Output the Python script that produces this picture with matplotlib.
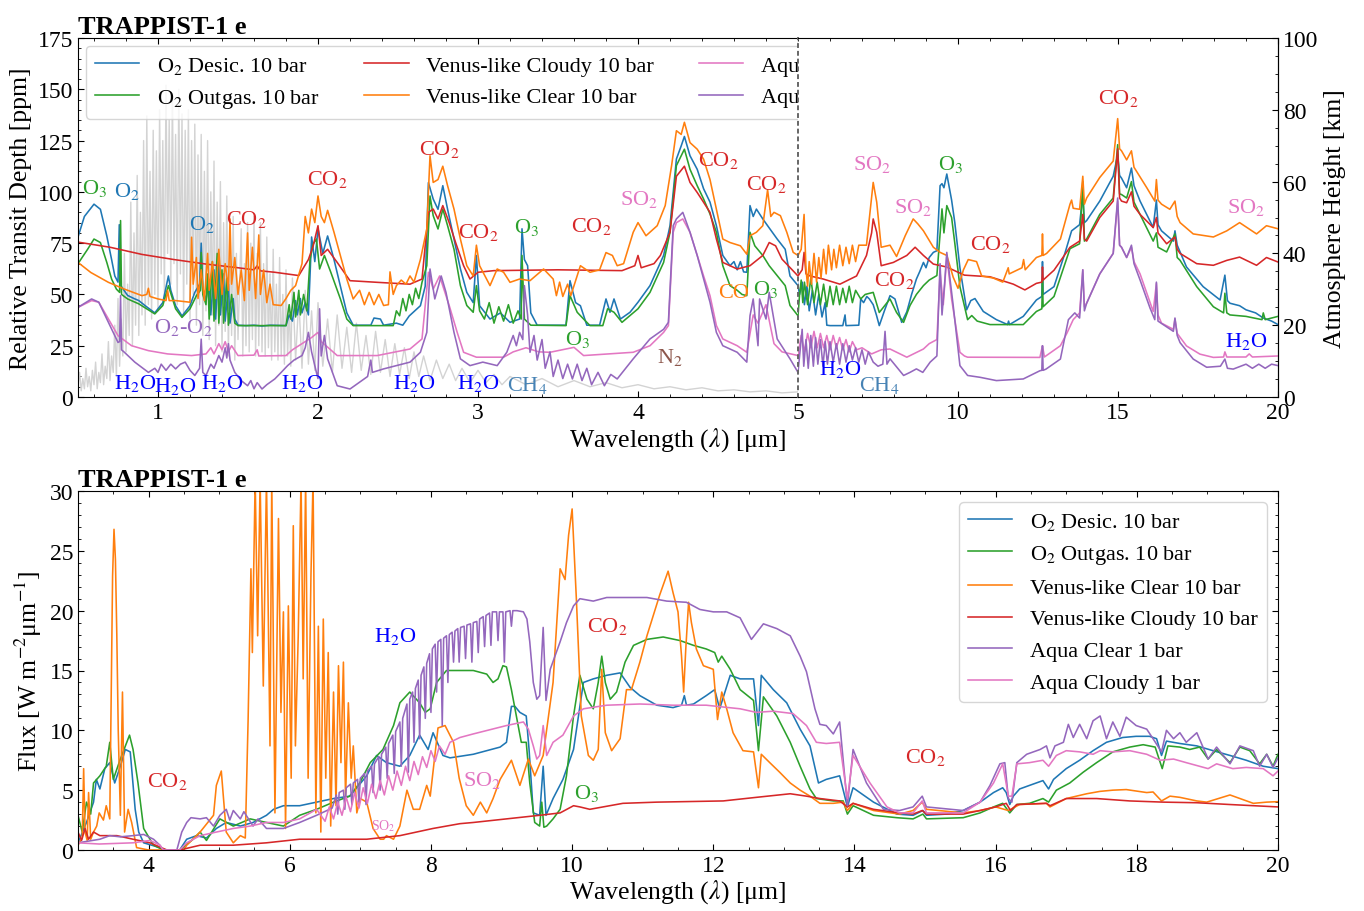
import numpy as np
import matplotlib.pyplot as plt
from matplotlib.ticker import MultipleLocator

# ---------------- data: top panel (transit depth, ppm) ----------------
grey_star = [(0.50,6),(0.51,12),(0.52,3),(0.53,9),(0.54,4),(0.55,14),(0.56,5),(0.57,10),(0.58,3),(0.59,13),
             (0.60,6),(0.61,17),(0.62,4),(0.63,12),(0.64,7),(0.65,21),(0.66,6),(0.67,15),(0.68,9),(0.69,27),
             (0.70,8),(0.71,20),(0.72,12),(0.73,35),(0.74,10),(0.75,48),(0.76,15),(0.77,38),(0.78,20),(0.79,70),
             (0.80,22),(0.81,55),(0.82,30),(0.83,95),(0.84,25),(0.85,80),(0.86,35),(0.87,108),(0.88,30),(0.89,90),
             (0.90,40),(0.91,125),(0.92,35),(0.93,137),(0.94,45),(0.95,110),(0.96,38),(0.97,130),(0.98,50),(0.99,120),
             (1.00,42),(1.01,140),(1.02,60),(1.03,125),(1.04,48),(1.05,152),(1.06,70),(1.07,135),(1.08,55),(1.09,148),
             (1.10,65),(1.11,128),(1.12,45),(1.13,150),(1.14,60),(1.15,138),(1.16,40),(1.17,130),(1.18,55),(1.19,140),
             (1.20,38),(1.21,125),(1.22,50),(1.23,133),(1.24,35),(1.25,118),(1.26,45),(1.27,128),(1.28,30),(1.29,110),
             (1.30,42),(1.31,125),(1.32,28),(1.33,100),(1.34,40),(1.35,115),(1.36,25),(1.37,95),(1.38,35),(1.39,105),
             (1.40,22),(1.41,85),(1.42,32),(1.43,98),(1.44,20),(1.45,80),(1.46,30),(1.47,88),(1.48,18),(1.49,70),
             (1.50,28),(1.52,82),(1.53,20),(1.54,65),(1.55,25),(1.56,85),(1.57,22),(1.58,75),(1.59,28),(1.60,88),
             (1.61,20),(1.62,70),(1.63,25),(1.64,85),(1.65,22),(1.66,65),(1.67,20),(1.68,78),(1.69,24),(1.70,60),
             (1.71,18),(1.72,72),(1.73,22),(1.74,55),(1.75,18),(1.76,68),(1.77,20),(1.78,50),(1.79,16),(1.80,62),
             (1.81,20),(1.82,45),(1.83,15),(1.84,58),(1.86,18),(1.88,48),(1.90,14),(1.92,52),(1.94,16),(1.96,42),
             (1.98,13),(2.00,46),(2.03,15),(2.06,38),(2.09,12),(2.12,40),(2.15,14),(2.18,34),(2.21,12),(2.24,36),
             (2.27,13),(2.30,30),(2.33,11),(2.36,32),(2.39,12),(2.42,28),(2.45,10),(2.48,26),(2.51,11),(2.54,24),
             (2.57,9),(2.60,22),(2.63,10),(2.66,20),(2.70,8),(2.74,18),(2.78,9),(2.82,16),(2.86,8),(2.90,14),
             (2.95,7),(3.00,13),(3.05,7),(3.10,11),(3.15,6),(3.20,10),(3.30,6),(3.40,9),(3.50,5),(3.60,8),
             (3.70,5),(3.80,7),(3.90,4.5),(4.00,6),(4.10,4),(4.20,5),(4.30,3.5),(4.40,4.5),(4.50,3),(4.60,3.5),
             (4.70,2.5),(4.80,3),(4.90,2),(5.00,2.5)]

t_o2_desic = [(0.50,78),(0.54,88),(0.60,94),(0.64,91.5),(0.68,78.5),(0.71,67),(0.73,59),(0.75,56),(0.758,84),(0.765,55),
              (0.77,54),(0.81,49.5),(0.85,48),(0.88,47),(0.92,44.5),(0.98,41),(1.03,46),(1.065,59),(1.08,52),(1.11,44.5),
              (1.15,39.5),(1.20,44.5),(1.23,51),(1.26,55),(1.27,75),(1.28,52),(1.30,47.5),(1.32,57),(1.33,40),(1.35,62),
              (1.36,38),(1.38,66),(1.39,40),(1.41,60),(1.42,37),(1.44,55),(1.45,36),(1.47,48),(1.48,38),(1.50,35),
              (1.55,34.8),(1.60,35),(1.65,34.6),(1.70,35),(1.80,34.8),(1.82,40),(1.84,37),(1.86,47),(1.87,40),(1.89,48),
              (1.90,41),(1.92,46),(1.94,40),(1.96,78),(1.98,66),(2.00,82),(2.03,70),(2.06,78.5),(2.10,67),(2.14,54),
              (2.18,41),(2.22,35),(2.33,35),(2.35,38.5),(2.39,38),(2.41,35),(2.49,36),(2.53,35),(2.57,39.5),(2.64,44.5),
              (2.67,54),(2.69,104.5),(2.72,96.5),(2.75,91.5),(2.78,103),(2.81,91.5),(2.85,77),(2.89,62.5),(2.93,51),(2.97,46),
              (2.99,69),(3.01,44.5),(3.075,38),(3.14,41),(3.20,36.4),(3.26,38),(3.275,82),(3.29,67),(3.31,64),(3.33,41),
              (3.37,35),(3.55,35),(3.575,56.7),(3.61,46),(3.64,44.5),(3.68,35),(3.76,35),(3.80,47.8),(3.825,41.3),(3.85,47.8),
              (3.89,38),(3.95,41.3),(4.00,46.2),(4.075,54.3),(4.16,69),(4.20,83.5),(4.24,116),(4.27,122.4),(4.29,127),(4.325,117.6),
              (4.37,111),(4.41,101.5),(4.45,95),(4.49,83.5),(4.53,69),(4.575,64),(4.60,66),(4.62,62),(4.64,66),(4.66,61),
              (4.68,60.8),(4.70,93.3),(4.72,88),(4.74,91.6),(4.78,86.8),(4.81,83.5),(4.87,77),(4.92,72),(4.95,59),(5.00,54.3),
              (5.05,50),(5.13,56),(5.20,45),(5.28,54),(5.35,42),(5.45,52),(5.55,40),(5.65,50),(5.75,39),(5.85,46),
              (5.90,35),(6.00,34.8),(6.40,34.8),(6.47,40),(6.50,34.8),(6.90,35),(6.96,47.8),(7.05,46),(7.15,49),(7.23,47.8),
              (7.35,45),(7.45,40),(7.54,34.8),(7.70,42),(7.875,49.4),(8.03,47.8),(8.24,36.4),(8.40,41.5),(8.55,50),(8.70,57.5),
              (8.80,61),(8.92,65.6),(9.00,63),(9.10,68),(9.23,70.5),(9.34,71.3),(9.44,103),(9.50,104),(9.56,102),(9.65,108.7),
              (9.80,96),(9.90,85),(10.06,63),(10.27,42.5),(10.40,47),(10.53,48),(10.79,41.7),(11.20,37.7),(11.55,35.3),(11.58,37),
              (11.61,35.3),(12.04,39.3),(12.45,47.3),(12.62,49),(12.64,66),(12.66,50),(13.00,53.8),(13.34,70),(13.55,81),(13.80,84),
              (13.90,98.7),(13.95,85),(14.02,86),(14.43,95.5),(14.85,107.6),(14.99,118),(15.05,108),(15.11,106.7),(15.27,102),(15.42,111.6),
              (15.50,103),(15.69,95.5),(16.10,82.6),(16.20,96),(16.25,84),(16.36,81),(16.73,76),(16.78,81),(16.85,74),(17.14,63.4),
              (17.66,53.8),(18.19,47.3),(18.34,59.4),(18.42,47),(18.50,45.7),(18.80,44.5),(19.00,42.5),(19.30,41),(19.54,38.5),(19.80,37),
              (20.00,35.3)]

t_o2_outgas = [(0.50,65),(0.56,72),(0.60,77),(0.64,75.3),(0.68,65.6),(0.71,57.5),(0.74,52.6),(0.76,51),(0.766,86),(0.772,50),
               (0.81,47.8),(0.88,45.4),(0.98,40.5),(1.03,44.6),(1.065,54.3),(1.11,43),(1.15,38.8),(1.20,43),(1.24,49.4),(1.265,52),
               (1.27,70.4),(1.28,50),(1.30,45),(1.31,60),(1.32,38),(1.34,66),(1.35,37),(1.37,70),(1.38,36),(1.40,62),
               (1.41,36),(1.43,58),(1.44,35),(1.46,50),(1.48,36),(1.50,34.8),(1.80,34.8),(1.82,45),(1.83,38),(1.85,51),
               (1.86,39),(1.88,52),(1.89,40),(1.91,50),(1.93,42),(1.95,67),(1.97,74.6),(1.99,77),(2.01,62.4),(2.04,69),
               (2.08,60.8),(2.14,47.8),(2.18,38),(2.22,34.8),(2.47,34.8),(2.49,42),(2.51,39.6),(2.53,48),(2.55,42),(2.57,50),
               (2.59,45),(2.61,53),(2.63,48),(2.65,55.9),(2.68,64),(2.70,98),(2.72,88.4),(2.75,81.9),(2.78,91.6),(2.81,83.5),
               (2.85,72),(2.89,54.3),(2.93,44.6),(2.97,41.3),(2.99,54.3),(3.01,42),(3.04,38),(3.07,46),(3.10,36),(3.13,44),
               (3.16,37),(3.19,45),(3.22,36),(3.25,42),(3.27,38),(3.275,69),(3.29,38),(3.33,35),(3.55,34.8),(3.575,49.4),
               (3.62,41.3),(3.66,38),(3.70,34.8),(3.78,34.8),(3.81,43),(3.85,41.3),(3.90,36.4),(4.00,43),(4.075,51),(4.16,65.6),
               (4.20,80.3),(4.24,112.8),(4.29,120.8),(4.325,111),(4.37,103),(4.41,96.5),(4.45,89.2),(4.49,80.3),(4.53,64),(4.575,54.3),
               (4.62,52),(4.65,50),(4.68,49.4),(4.70,80.3),(4.73,73.7),(4.78,69),(4.82,64),(4.92,54.3),(4.95,44.6),(5.00,39.6),
               (5.05,50),(5.10,57),(5.15,46),(5.20,56),(5.30,45),(5.40,58),(5.50,46),(5.60,56),(5.70,45),(5.80,55),
               (5.90,44),(6.00,54),(6.10,45),(6.20,54),(6.30,45),(6.40,53),(6.50,46),(6.60,54),(6.70,46),(6.80,52),
               (6.96,47.8),(7.10,50),(7.35,51),(7.54,41.2),(7.875,47.8),(8.08,41.2),(8.30,36.4),(8.50,44.6),(8.70,50),(8.92,54.3),
               (9.10,57),(9.34,59.2),(9.50,91.7),(9.56,80),(9.65,93.3),(9.80,87.5),(9.90,75),(10.06,53.8),(10.30,37.7),(10.43,39.7),
               (10.60,37),(11.00,35.3),(12.04,35.3),(12.45,41.7),(12.62,43),(12.64,57),(12.66,44),(13.00,49),(13.50,72.3),(13.80,74.7),
               (13.90,105),(13.95,76),(14.02,77),(14.43,89),(14.85,97),(14.99,123),(15.05,99),(15.11,98.7),(15.27,97),(15.42,105),
               (15.50,95),(15.69,89),(16.10,76),(16.20,80),(16.25,73),(16.52,70.7),(16.78,79.5),(16.85,68),(16.94,66.6),(17.46,53.8),
               (17.98,44),(18.30,41),(18.34,50.6),(18.40,41),(18.50,40),(19.00,39.3),(19.50,37.7),(19.54,41),(19.60,37.7),(20.00,39.3)]

t_venus_cloudy = [(0.50,75.5),(0.70,73),(0.90,69.5),(1.10,67),(1.30,64.8),(1.50,63),(1.60,62),(1.62,64),(1.64,61.5),(1.73,60.8),
                  (1.88,59.2),(1.94,67),(1.97,73.7),(2.00,83.5),(2.02,69),(2.06,72),(2.12,65.6),(2.20,56.7),(2.37,55.9),(2.575,55),
                  (2.65,57.5),(2.69,90),(2.72,91.6),(2.75,86.8),(2.78,93.3),(2.82,85),(2.86,75.3),(2.91,64),(2.95,57.5),(3.00,60.8),
                  (3.10,61.6),(3.50,62),(3.90,61.6),(3.98,64),(4.00,69),(4.02,63),(4.10,65),(4.14,69),(4.20,80.3),(4.24,107.6),
                  (4.29,112.5),(4.325,104.6),(4.37,99.7),(4.41,94.9),(4.45,90),(4.49,77),(4.53,65.6),(4.62,62.4),(4.70,64),(4.78,69),
                  (4.82,75.3),(4.86,73.7),(4.90,67.2),(5.00,59),(5.13,62),(5.19,70.5),(5.25,60),(5.38,59),(5.79,57.5),(6.31,55),
                  (6.83,59),(7.14,69),(7.30,80),(7.35,86.8),(7.46,80.3),(7.60,64),(7.98,65.6),(8.40,69),(8.66,73),(8.92,69),
                  (9.23,64.8),(9.64,63.4),(10.20,59.4),(11.00,58.6),(11.73,55),(12.09,52.2),(12.45,55.4),(12.62,56),(12.64,63.4),(12.66,57),
                  (13.00,61.8),(13.50,73),(13.80,76),(13.90,89),(13.95,77),(14.02,76),(14.43,87.5),(14.85,95.5),(14.99,121),(15.05,97),
                  (15.11,95.5),(15.27,94.7),(15.42,100),(15.50,93),(15.69,89),(16.10,82.6),(16.20,87.5),(16.25,80),(16.52,74.7),(16.78,78),
                  (16.85,72),(16.94,70),(17.46,65),(17.98,64.2),(18.40,66.6),(18.80,68.2),(19.33,64.2),(19.64,68),(20.00,65.8)]

t_venus_clear = [(0.50,65.6),(0.58,60.7),(0.69,55.9),(0.79,52.6),(0.90,49.4),(0.93,50),(0.94,53),(0.95,49),(1.00,47.8),(1.05,47),
                 (1.06,52),(1.07,47),(1.11,47),(1.20,46.2),(1.21,77.9),(1.22,55),(1.24,68),(1.25,48),(1.27,62),(1.29,47),
                 (1.31,70),(1.32,52),(1.34,66),(1.36,48),(1.38,72),(1.40,50),(1.42,65),(1.44,52),(1.45,86.8),(1.46,55),
                 (1.48,68),(1.50,50),(1.52,62),(1.54,47),(1.56,80),(1.57,52),(1.59,73),(1.61,48),(1.63,79),(1.64,50),
                 (1.66,62),(1.68,46),(1.70,55),(1.72,45),(1.77,44.6),(1.80,48),(1.83,52),(1.86,54.3),(1.90,65),(1.92,88),
                 (1.94,80),(1.96,91.6),(1.98,85),(2.00,98),(2.02,88),(2.04,85),(2.06,91),(2.10,80.3),(2.14,69),(2.18,57.5),
                 (2.22,47.8),(2.26,52),(2.29,45),(2.32,51),(2.35,45),(2.38,50),(2.41,44.6),(2.44,45),(2.45,61),(2.47,50),
                 (2.49,54.3),(2.52,57),(2.55,55),(2.575,59),(2.60,56),(2.64,67),(2.68,81.9),(2.70,117.6),(2.72,104.6),(2.75,106),
                 (2.78,112.5),(2.81,103),(2.85,91.6),(2.89,77),(2.93,64),(2.97,59),(2.99,74),(3.01,64),(3.075,54.3),(3.12,62.4),
                 (3.16,60.8),(3.20,55.9),(3.26,57.5),(3.325,56.7),(3.41,62.4),(3.47,57.5),(3.49,49.4),(3.51,56),(3.53,49),(3.56,55),
                 (3.58,49.4),(3.64,64),(3.70,60.8),(3.76,62),(3.80,70.4),(3.84,69),(3.87,64),(3.91,65),(3.97,80.3),(4.00,85),
                 (4.05,78.6),(4.12,83.5),(4.17,93.3),(4.21,112.8),(4.24,129.8),(4.27,128),(4.29,133.9),(4.325,124),(4.37,120.8),(4.41,115.9),
                 (4.45,106),(4.49,91.6),(4.53,77),(4.575,75.3),(4.64,73.7),(4.68,69.6),(4.70,78.6),(4.74,80.3),(4.78,83.5),(4.81,101),
                 (4.83,88),(4.85,90),(4.89,88.4),(4.93,80.3),(4.97,70.5),(5.00,69),(5.10,72),(5.19,89),(5.25,62.4),(5.30,54),
                 (5.35,66),(5.42,55),(5.50,70),(5.58,56),(5.65,68),(5.72,58),(5.80,72),(5.88,60),(5.95,74),(6.05,62),
                 (6.12,72),(6.20,63),(6.30,74),(6.40,64),(6.50,73),(6.60,65),(6.70,74),(6.80,66),(6.90,74),(7.14,74),
                 (7.35,104.6),(7.46,95),(7.60,73),(7.875,74),(8.08,68.5),(8.35,78.6),(8.60,86.8),(8.75,84.3),(8.92,81),(9.23,73),
                 (9.44,70.5),(9.65,69),(9.85,58.4),(10.00,53),(10.17,62),(10.32,67),(10.58,66),(10.74,59),(11.10,58),(11.40,56),
                 (11.57,63),(11.60,60),(12.00,63),(12.05,67),(12.10,62),(12.45,68),(12.62,69),(12.64,79.5),(12.66,69),(12.77,70),
                 (13.20,77),(13.50,94),(13.55,96),(13.60,92),(13.80,91.5),(13.90,107.6),(13.95,94),(14.02,97),(14.43,107),(14.85,115),
                 (14.99,135.7),(15.05,121),(15.11,120),(15.27,115.6),(15.42,120),(15.50,112),(15.58,110),(15.90,102),(16.15,95.5),(16.20,106),
                 (16.25,96),(16.36,94),(16.62,91.5),(16.78,95.5),(16.85,88),(16.94,85),(17.35,79.5),(17.98,78),(18.40,81),(18.80,85),
                 (19.33,79.5),(19.64,83.5),(20.00,82)]

t_aqua_cloudy = [(0.50,43.7),(0.585,47),(0.63,46.2),(0.69,38),(0.75,29.9),(0.835,25),(0.94,22.6),(1.06,21),(1.21,20.2),(1.30,21),
                 (1.33,24),(1.35,21),(1.38,26),(1.40,23),(1.42,27),(1.44,22),(1.46,25),(1.50,20.2),(1.60,20.4),(1.62,23),
                 (1.63,20),(1.80,20.2),(1.84,23),(1.88,25),(1.92,27),(1.96,29),(2.00,31.5),(2.02,27),(2.05,25),(2.12,20.2),
                 (2.37,20.2),(2.575,23.4),(2.65,28.3),(2.69,60.8),(2.72,52.6),(2.76,59),(2.82,44.6),(2.87,31.5),(2.91,21.8),(2.99,19.4),
                 (3.16,19.4),(3.22,22),(3.30,24),(3.38,22),(3.45,21.8),(3.60,24.2),(3.66,20.2),(3.97,21.8),(4.075,25),(4.16,31.5),
                 (4.19,34.8),(4.22,80.3),(4.24,85),(4.28,86.8),(4.325,80.3),(4.37,69),(4.41,59),(4.45,49.4),(4.49,34.8),(4.53,28.3),
                 (4.62,25),(4.68,21.8),(4.72,40),(4.75,36),(4.80,45),(4.85,26),(4.90,22),(5.00,20.2),(5.10,30),(5.20,22),
                 (5.30,31),(5.40,24),(5.50,32),(5.60,24),(5.70,31),(5.80,24),(5.90,30),(6.00,23),(6.10,30),(6.20,24),
                 (6.30,29),(6.40,23),(6.50,28),(6.60,22),(6.70,27),(6.83,23),(7.00,24),(7.30,21),(7.60,23),(7.875,23.4),
                 (8.40,19.4),(8.92,23.4),(9.10,26),(9.34,28),(9.44,60.8),(9.54,45),(9.65,69),(9.80,47.8),(10.06,21.8),(10.20,20),
                 (10.30,19.4),(12.56,19.3),(12.64,25),(12.70,19.5),(13.20,25),(13.40,31),(13.60,37.7),(13.80,41),(13.90,62),(13.95,44),
                 (14.02,45.7),(14.43,60),(14.85,70),(14.99,95.5),(15.05,74),(15.11,73),(15.27,68),(15.42,73),(15.50,66),(15.69,60),
                 (16.10,41.7),(16.20,55.4),(16.25,40),(16.36,36),(16.73,33),(16.78,38),(16.85,31),(17.14,24.9),(17.56,20.9),(17.98,19.3),
                 (18.30,19.5),(18.34,22),(18.40,19.5),(19.00,19.5),(19.10,21),(19.20,19.5),(20.00,20)]

t_aqua_clear = [(0.50,43.7),(0.585,47.8),(0.63,46.2),(0.69,36.4),(0.75,26.6),(0.76,27),(0.766,49.4),(0.772,23),(0.79,21.8),(0.855,17),
                (0.94,12),(0.98,14),(1.00,12),(1.02,16),(1.05,13),(1.08,16),(1.11,13.7),(1.14,16),(1.17,17),(1.20,13),
                (1.23,10.5),(1.26,14),(1.27,28.2),(1.28,12),(1.30,10.5),(1.33,16),(1.35,14),(1.38,20.2),(1.40,17),(1.42,24),
                (1.43,19),(1.44,26),(1.45,18),(1.48,12),(1.52,8),(1.56,5.5),(1.58,8),(1.60,4),(1.62,7),(1.65,3.9),
                (1.68,6),(1.73,8.8),(1.77,12),(1.81,15.3),(1.85,18),(1.90,20.2),(1.92,24),(1.94,31.5),(1.96,22),(1.97,18.6),
                (1.99,12),(2.00,9),(2.01,43),(2.02,20),(2.04,30),(2.06,18.6),(2.12,5.5),(2.20,3.9),(2.26,7.2),(2.31,10),
                (2.33,18),(2.34,12),(2.41,13.7),(2.49,15.3),(2.575,17),(2.64,21.8),(2.68,31.5),(2.70,62.4),(2.73,47.8),(2.77,59),
                (2.80,51),(2.85,31.5),(2.89,18.6),(2.95,15.3),(3.03,17),(3.12,15.3),(3.18,21.8),(3.22,30),(3.24,25),(3.26,31.5),
                (3.28,28),(3.29,54.3),(3.31,40),(3.325,21.8),(3.35,30),(3.37,18),(3.40,28),(3.42,14),(3.45,22),(3.47,10),
                (3.50,18),(3.53,9),(3.56,16),(3.59,8.8),(3.62,16),(3.65,8),(3.68,14),(3.71,6),(3.75,12),(3.79,5.5),
                (3.83,11),(3.87,8.8),(3.97,18.6),(4.075,28.3),(4.16,33),(4.19,36.4),(4.22,83.5),(4.24,86.8),(4.28,90),(4.325,80.3),
                (4.37,69),(4.41,57.5),(4.45,46.2),(4.49,31.5),(4.53,25),(4.62,21.8),(4.68,17),(4.70,39.6),(4.72,47.8),(4.75,25),
                (4.76,47.8),(4.80,38),(4.82,51),(4.87,28.3),(4.95,18.6),(5.00,12),(5.05,20),(5.13,33),(5.18,15),(5.25,28),
                (5.32,14),(5.40,30),(5.48,15),(5.55,29),(5.62,16),(5.70,28),(5.78,15),(5.85,27),(5.92,16),(6.00,27),
                (6.10,17),(6.20,26),(6.30,16),(6.40,26),(6.50,17),(6.60,25),(6.70,18),(6.80,24),(6.90,17),(7.00,23),
                (7.10,16),(7.20,22),(7.35,17),(7.50,15),(7.65,16),(7.72,32),(7.78,16),(7.875,18.6),(8.30,10.5),(8.50,12),
                (8.70,13.7),(8.90,12),(9.13,17),(9.34,20),(9.44,65),(9.50,40),(9.58,55),(9.65,70.5),(9.85,44.6),(10.06,15.3),
                (10.30,10.5),(10.69,9.6),(11.20,8),(12.04,8.8),(12.56,12.8),(12.62,13),(12.64,25),(12.66,13),(12.75,13.6),(13.20,18.5),
                (13.45,37.7),(13.65,41),(13.80,38.5),(13.90,62),(13.95,42),(14.02,45.7),(14.43,60),(14.85,70),(14.99,97),(15.05,74),
                (15.11,73),(15.27,68),(15.42,74),(15.50,65),(15.69,57),(16.00,43.4),(16.15,37.7),(16.20,56),(16.25,37),(16.73,32),
                (16.78,38.5),(16.85,30),(16.94,26.5),(17.35,18.5),(17.77,14.5),(18.20,15),(18.34,18.5),(18.42,14),(18.60,13.6),(19.00,16),
                (19.20,14),(19.40,16),(19.60,14),(19.80,16),(20.00,15.3)]

# ---------------- data: bottom panel (emission flux) ----------------
b_o2_desic = [(3.0,0.6),(3.12,2.3),(3.22,4),(3.26,5.9),(3.31,5.1),(3.38,6.8),(3.45,7.3),(3.52,5.6),(3.6,7.0),(3.67,8.4),
              (3.74,8.2),(3.81,3.4),(3.86,1.5),(3.93,0.6),(4.16,0.2),(4.21,0),(4.44,0),(4.54,0.9),(4.68,1.2),(4.82,1.0),
              (4.96,1.8),(5.1,2.3),(5.3,2.0),(5.48,2.3),(5.67,2.9),(5.77,3.4),(5.91,3.7),(6.14,3.7),(6.38,4.0),(6.62,4.3),
              (6.85,4.5),(7.09,6.2),(7.23,7.9),(7.37,7.3),(7.56,7.0),(7.7,7.9),(7.84,9.6),(7.96,8.4),(8.03,9.8),(8.17,7.9),
              (8.27,7.7),(8.6,8.0),(8.98,8.6),(9.07,9.0),(9.14,12),(9.19,12),(9.26,11.5),(9.35,11.2),(9.39,8.4),(9.45,3.1),
              (9.54,2.9),(9.59,7.0),(9.63,2.9),(9.73,4.3),(9.87,5.9),(10.02,8.4),(10.16,14),(10.3,14.3),(10.49,14.6),(10.68,14.8),
              (10.82,13.6),(10.96,12.9),(11.2,12.1),(11.43,11.9),(11.55,12.1),(11.59,12.9),(11.62,12.1),(11.72,12.2),(11.9,12.9),(12.02,13.4),
              (12.09,11.8),(12.24,14.6),(12.38,14.3),(12.57,14.3),(12.64,10.4),(12.68,14.6),(12.85,13.4),(13.04,12.3),(13.23,10.1),(13.37,8.7),
              (13.49,5.6),(13.6,5.9),(13.79,6.2),(13.9,3.6),(13.98,5.2),(14.27,4.0),(14.6,3.0),(14.83,2.9),(14.97,3.3),(15.02,2.9),
              (15.3,3.0),(15.54,3.3),(15.78,4.0),(15.97,4.8),(16.1,5.2),(16.15,4.8),(16.2,3.8),(16.25,4.5),(16.34,5.1),(16.48,5.4),
              (16.67,5.8),(16.75,5.1),(16.82,5.9),(17.0,6.8),(17.19,7.5),(17.38,8.3),(17.57,9.0),(17.8,9.4),(17.99,9.5),(18.18,9.5),
              (18.28,9.3),(18.35,7.9),(18.42,9.1),(18.61,8.9),(18.85,8.7),(19.08,8.3),(19.32,7.9),(19.55,7.5),(19.79,7.0),(20.0,6.8)]

b_o2_outgas = [(3.0,2.9),(3.06,1.5),(3.12,4),(3.18,3),(3.22,5.6),(3.31,6.2),(3.4,7.0),(3.45,9.0),(3.5,5.9),(3.6,7.6),
               (3.69,9.0),(3.73,9.6),(3.78,8.4),(3.85,5.6),(3.93,1.8),(4.07,0.4),(4.21,0),(4.44,0),(4.63,0.9),(4.73,1.5),
               (4.82,0.8),(5.01,2.6),(5.2,2.0),(5.44,2.6),(5.67,2.3),(5.91,2.0),(6.14,2.9),(6.38,3.4),(6.62,4.0),(6.85,4.5),
               (6.99,5.6),(7.14,7.3),(7.32,8.4),(7.47,10.4),(7.56,12.3),(7.7,13.2),(7.84,12.3),(7.92,11.5),(7.99,11.8),(8.08,14),
               (8.22,15),(8.32,15),(8.6,15),(8.79,14.7),(8.88,14.0),(8.95,14.3),(9.02,15.4),(9.07,15.3),(9.14,13.4),(9.21,11.2),
               (9.28,9.0),(9.35,9.0),(9.4,5.6),(9.47,2.3),(9.54,2.0),(9.57,4.0),(9.6,1.9),(9.64,2.0),(9.73,2.6),(9.83,3.4),
               (9.92,6.2),(10.02,11.2),(10.11,14.6),(10.21,12.6),(10.3,11.8),(10.37,14),(10.42,16.2),(10.47,14),(10.54,12.6),(10.63,13.2),
               (10.75,15.7),(10.87,17.1),(11.06,17.6),(11.29,17.8),(11.53,17.5),(11.72,17.1),(11.9,16.8),(12.02,16.5),(12.07,15.7),(12.12,16.2),
               (12.24,15.1),(12.38,13.4),(12.57,12.5),(12.64,8.3),(12.71,12.8),(12.9,11.2),(13.09,9.0),(13.23,7.0),(13.37,5.1),(13.46,4.3),
               (13.7,4.1),(13.84,4.1),(13.9,3.0),(13.98,3.7),(14.27,2.9),(14.6,2.7),(14.83,2.6),(14.97,3.0),(15.02,2.6),(15.54,2.7),
               (15.78,3.1),(15.97,3.6),(16.1,3.9),(16.2,3.1),(16.3,3.8),(16.48,3.9),(16.67,4.3),(16.75,4.0),(16.86,5.0),(17.05,5.6),
               (17.24,6.5),(17.43,7.3),(17.66,8.2),(17.9,8.6),(18.09,8.8),(18.26,8.6),(18.36,6.8),(18.44,8.7),(18.61,8.6),(18.75,8.4),
               (18.89,8.6),(19.01,7.6),(19.13,8.4),(19.32,7.3),(19.46,8.6),(19.6,8.3),(19.74,7.2),(19.84,8.0),(19.93,7.0),(20.0,8.0)]

b_venus_clear = [(3.0,0.4),(3.06,1.0),(3.08,6.8),(3.1,1.5),(3.13,0.8),(3.15,4.8),(3.18,0.9),(3.22,1.5),(3.265,2.0),(3.3,3.1),
                 (3.36,2.5),(3.4,3.7),(3.45,2.6),(3.49,22.9),(3.51,26.8),(3.53,24.3),(3.55,17.9),(3.57,10),(3.6,2.9),(3.63,13.2),
                 (3.66,1.5),(3.71,3.4),(3.76,2.3),(3.83,0.2),(4.0,0),(4.5,0),(4.54,0.4),(4.73,1.5),(4.92,2.9),(4.96,5.4),
                 (5.03,6.6),(5.1,1.5),(5.2,0.6),(5.3,1.2),(5.37,1.0),(5.41,10.9),(5.45,23.5),(5.47,16.5),(5.51,31),(5.545,17.9),
                 (5.58,31),(5.625,13.7),(5.67,31),(5.72,8.7),(5.745,31),(5.79,3.1),(5.84,27.7),(5.875,11.5),(5.91,19.9),(5.94,1.8),
                 (5.98,20.4),(6.02,6.0),(6.05,27.1),(6.08,8.7),(6.12,17.9),(6.16,31),(6.19,14.3),(6.225,31),(6.26,6.0),(6.3,22.9),
                 (6.33,31),(6.37,3.1),(6.405,18.7),(6.44,1.5),(6.475,19.3),(6.51,6.0),(6.545,16.5),(6.58,2.0),(6.62,13.2),(6.655,3.7),
                 (6.69,15.4),(6.725,7.3),(6.76,15.7),(6.79,4.3),(6.83,12.3),(6.87,6.0),(6.9,8.7),(6.95,3.1),(7.0,4.3),(7.09,4.0),
                 (7.18,1.8),(7.28,0.9),(7.33,0.9),(7.37,1.2),(7.47,0.9),(7.56,2.0),(7.66,5.0),(7.75,3.4),(7.84,3.4),(7.94,5.4),
                 (7.99,4.5),(8.1,10.2),(8.2,10.4),(8.32,9.0),(8.4,6),(8.5,3.7),(8.6,2.9),(8.7,4.0),(8.79,3.1),(8.88,4.3),
                 (8.98,5.9),(9.07,6.8),(9.14,7.5),(9.26,5.4),(9.38,7.6),(9.47,6.2),(9.59,7.9),(9.73,14),(9.83,23.5),(9.9,22.6),
                 (9.95,26.3),(10.0,28.5),(10.06,21),(10.13,11.2),(10.23,7.9),(10.3,7.5),(10.37,8.4),(10.42,15.1),(10.47,9.8),(10.56,8.3),
                 (10.68,9.3),(10.77,13.4),(10.84,13.4),(10.96,15.7),(11.06,17.9),(11.15,19.6),(11.24,21.3),(11.36,23.3),(11.43,21.5),(11.5,19.9),
                 (11.55,16.2),(11.58,13.2),(11.61,16.8),(11.65,20.7),(11.69,19),(11.76,16.8),(11.86,15.4),(12.0,15.1),(12.06,10.9),(12.12,13.2),
                 (12.19,11.8),(12.28,9.8),(12.42,8.3),(12.57,8.2),(12.64,5.2),(12.68,8.0),(12.8,7.3),(12.94,6.5),(13.09,5.6),(13.23,5.0),
                 (13.37,4.5),(13.51,3.9),(13.7,3.9),(13.84,4.0),(13.9,3.3),(13.98,3.9),(14.27,3.3),(14.64,3.0),(14.83,3.3),(14.96,4.0),
                 (15.02,3.4),(15.54,3.1),(15.78,3.3),(16.0,3.6),(16.18,3.3),(16.34,3.8),(16.72,3.9),(16.77,3.6),(17.0,4.3),(17.29,4.7),
                 (17.48,4.9),(17.66,5.0),(17.85,5.05),(18.14,4.8),(18.23,4.85),(18.35,4.1),(18.47,4.5),(18.61,4.4),(18.85,4.1),(18.99,4.0),
                 (19.32,4.6),(19.46,4.3),(19.65,3.9),(19.84,4.0),(20.0,4.04)]

b_venus_cloudy = [(3.0,1.5),(3.05,0.8),(3.1,1.8),(3.15,0.9),(3.22,1.5),(3.31,1.2),(3.55,1.2),(3.78,0.9),(4.02,0.6),(4.26,0.0),
                  (4.44,0.0),(4.73,0.4),(5.2,0.4),(5.67,0.6),(6.14,0.9),(7.09,0.9),(7.56,1.2),(8.03,1.8),(8.41,2.2),(8.6,2.3),
                  (9.07,2.6),(9.54,2.9),(9.83,3.1),(10.02,3.7),(10.11,3.6),(10.25,3.4),(10.72,3.9),(11.2,4.0),(11.67,4.05),(12.14,4.1),
                  (12.61,4.4),(13.09,4.7),(13.32,4.5),(13.51,4.3),(13.79,4.1),(13.9,3.6),(13.98,3.9),(14.27,3.4),(14.64,3.1),(14.83,3.0),
                  (14.96,3.3),(15.02,3.0),(15.54,3.0),(15.78,3.3),(16.0,3.6),(16.15,3.9),(16.21,3.3),(16.3,3.8),(16.72,3.9),(16.77,3.7),
                  (17.0,4.3),(17.43,4.3),(17.9,4.1),(18.38,4.0),(18.85,3.95),(19.32,3.8),(20.0,3.6)]

b_aqua_clear = [(3.0,0.6),(3.31,0.9),(3.45,1.2),(3.6,1.1),(3.78,1.2),(3.93,1.3),(4.07,0.9),(4.16,0.4),(4.21,0),(4.4,0),
                (4.47,1.5),(4.54,2.3),(4.6,2.7),(4.73,2.6),(4.82,2.7),(4.92,2.0),(5.01,2.9),(5.1,3.4),(5.15,2.5),(5.2,3.3),
                (5.3,2.6),(5.35,3.2),(5.48,2.0),(5.55,2.6),(5.67,1.8),(5.91,1.8),(6.14,2.3),(6.38,2.9),(6.6,3.5),(6.66,4.6),
                (6.68,3.0),(6.7,4.8),(6.76,5.0),(6.78,3.4),(6.8,5.2),(6.86,5.5),(6.88,3.8),(6.9,5.6),(6.96,5.9),(6.98,4.0),
                (7.0,6.0),(7.06,6.4),(7.08,3.8),(7.1,6.6),(7.16,7.0),(7.18,4.8),(7.2,7.2),(7.26,7.8),(7.28,5.0),(7.3,8.0),
                (7.36,8.6),(7.38,6.0),(7.4,8.9),(7.46,9.6),(7.48,6.4),(7.5,9.9),(7.56,10.7),(7.58,7.0),(7.6,11.0),(7.66,12.2),
                (7.68,6.5),(7.7,12.6),(7.74,13.2),(7.76,9.0),(7.78,13.5),(7.82,14.2),(7.84,9.3),(7.86,14.6),(7.9,15.3),(7.92,11.0),
                (7.94,15.6),(7.98,16.4),(8.0,11.5),(8.02,16.8),(8.06,17.2),(8.08,13.2),(8.1,17.4),(8.14,17.6),(8.16,10.4),(8.18,17.7),
                (8.22,17.9),(8.24,14.0),(8.26,18.0),(8.3,18.2),(8.32,15.7),(8.34,18.3),(8.38,18.5),(8.4,15.7),(8.42,18.6),(8.47,18.7),
                (8.49,16.0),(8.51,18.8),(8.56,18.9),(8.58,15.7),(8.6,19.0),(8.65,19.1),(8.67,16.5),(8.69,19.3),(8.74,19.5),(8.76,17.0),
                (8.78,19.6),(8.83,19.8),(8.85,17.1),(8.87,19.9),(8.93,19.9),(8.95,17.5),(8.97,19.9),(9.02,19.9),(9.04,15.7),(9.06,19.9),
                (9.12,20.0),(9.14,18.7),(9.16,20.0),(9.22,20.0),(9.31,19.9),(9.36,19.3),(9.4,17.4),(9.45,14),(9.5,12.6),(9.54,12.9),
                (9.59,18.6),(9.63,12.5),(9.69,15.1),(9.83,17.4),(9.92,19.0),(10.02,20.4),(10.11,21),(10.3,20.8),(10.49,21.1),(11.06,21.1),
                (11.34,20.8),(11.62,20.7),(11.81,20.1),(12.0,19.9),(12.19,19.9),(12.38,19.4),(12.54,17.6),(12.71,18.9),(12.9,18.5),(13.09,17.9),
                (13.23,16.2),(13.32,14.9),(13.44,11.8),(13.51,10.5),(13.6,10.4),(13.7,9.7),(13.79,10.7),(13.9,3.7),(13.98,8.4),(14.17,5.6),
                (14.41,3.4),(14.64,3.3),(14.83,3.6),(14.96,4.5),(15.02,3.6),(15.54,3.3),(15.78,4.0),(15.92,5.4),(16.06,7.2),(16.13,7.3),
                (16.18,4.3),(16.23,4.0),(16.3,7.3),(16.44,8.0),(16.63,8.4),(16.72,8.7),(16.77,7.7),(16.84,8.7),(16.96,9.0),(17.03,10.5),
                (17.1,9.4),(17.19,10.5),(17.29,9.3),(17.38,10.8),(17.48,11.2),(17.57,9.3),(17.66,10.7),(17.76,9.5),(17.85,11.1),(17.99,10.4),
                (18.14,10.1),(18.23,9.3),(18.35,8.2),(18.42,10),(18.52,9.3),(18.61,9.8),(18.7,9.0),(18.85,9.8),(19.01,7.6),(19.13,8.6),
                (19.32,7.2),(19.46,8.7),(19.65,8.3),(19.74,7.0),(19.84,8.0),(19.93,6.9),(20.0,7.7)]

b_aqua_cloudy = [(3.0,0.6),(3.3,0.5),(3.78,0.6),(4.02,0.8),(4.16,0.4),(4.21,0),(4.44,0),(4.54,0.6),(4.73,1.2),(4.96,1.5),
                 (5.2,1.8),(5.44,2.0),(5.67,2.3),(5.91,2.3),(6.14,2.6),(6.38,3.4),(6.5,2.4),(6.56,3.6),(6.62,2.6),(6.68,4.0),
                 (6.74,2.9),(6.8,4.4),(6.86,3.2),(6.92,4.8),(6.98,3.5),(7.04,5.2),(7.1,3.9),(7.16,5.5),(7.22,4.3),(7.28,5.8),
                 (7.34,4.6),(7.4,6.2),(7.46,5.0),(7.52,6.6),(7.58,5.4),(7.64,7.0),(7.7,5.8),(7.76,7.4),(7.82,6.3),(7.88,7.8),
                 (7.94,6.9),(8.0,8.3),(8.06,7.4),(8.12,8.7),(8.2,8.0),(8.27,9.0),(8.41,9.4),(8.6,9.7),(9.07,10.4),(9.31,10.7),
                 (9.38,10.1),(9.45,8.7),(9.5,7.6),(9.54,7.9),(9.59,10.4),(9.64,7.9),(9.73,9.0),(9.87,9.6),(10.02,11.2),(10.16,11.8),
                 (10.49,12.1),(10.96,12.2),(11.43,12.1),(11.9,12.1),(12.38,11.8),(12.61,11.5),(12.85,11.6),(13.13,11.4),(13.32,10.4),(13.46,9.0),
                 (13.6,8.9),(13.79,9.0),(13.9,4.3),(13.98,7.9),(14.22,5.6),(14.46,3.6),(14.64,3.1),(14.83,3.1),(14.96,4.1),(15.02,3.1),
                 (15.54,3.1),(15.78,4.0),(15.97,5.6),(16.1,7.2),(16.18,4.5),(16.23,4.5),(16.3,7.2),(16.48,7.3),(16.67,7.5),(16.75,7.0),
                 (16.86,7.9),(17.0,8.3),(17.19,8.2),(17.38,8.0),(17.48,8.3),(17.66,8.2),(17.9,8.3),(18.14,8.0),(18.33,7.5),(18.52,7.6),
                 (18.7,7.3),(19.01,6.8),(19.13,7.2),(19.36,6.8),(19.55,6.9),(19.79,6.8),(19.93,6.2),(20.0,6.6)]

# molecule labels: (text, wavelength, value, colour)
top_labels = [("O$_3$",0.606,102,"tab:green"),("O$_2$",0.806,100.5,"tab:blue"),("O$_2$",1.275,84.5,"tab:blue"),
              ("CO$_2$",1.55,87,"tab:red"),("O$_2$-O$_2$",1.156,34.5,"tab:purple"),
              ("H$_2$O",0.856,7,"blue"),("H$_2$O",1.106,5.5,"blue"),("H$_2$O",1.40,7,"blue"),("H$_2$O",1.90,7,"blue"),
              ("CO$_2$",2.056,106.5,"tab:red"),("CO$_2$",2.76,121,"tab:red"),("H$_2$O",2.60,7,"blue"),
              ("CO$_2$",3.00,80.5,"tab:red"),("O$_3$",3.306,83,"tab:green"),("H$_2$O",3.00,7,"blue"),("CH$_4$",3.306,6.3,"steelblue"),
              ("CO$_2$",3.706,83.5,"tab:red"),("SO$_2$",4.006,97,"tab:pink"),("O$_3$",3.625,28.3,"tab:green"),
              ("N$_2$",4.20,19.5,"tab:brown"),("CO$_2$",4.50,116,"tab:red"),("CO$_2$",4.80,104,"tab:red"),
              ("CO",4.60,51,"tab:orange"),("O$_3$",4.80,53,"tab:green")]
right_labels = [("SO$_2$",7.31,114,"tab:pink"),("SO$_2$",8.59,93,"tab:pink"),("O$_3$",9.78,114,"tab:green"),
                ("CO$_2$",8.0,57.5,"tab:red"),("CO$_2$",11.0,75,"tab:red"),("H$_2$O",6.31,13.7,"blue"),
                ("CH$_4$",7.53,5.9,"steelblue"),("CO$_2$",15.0,146,"tab:red"),("SO$_2$",19.0,93,"tab:pink"),
                ("H$_2$O",19.0,27.3,"blue")]
bottom_labels = [("CO$_2$",4.27,5.8,"tab:red"),("H$_2$O",7.5,17.9,"blue"),("SO$_2$",8.72,5.85,"tab:pink"),
                 ("O$_3$",10.21,4.8,"tab:green"),("CO$_2$",10.5,18.8,"tab:red"),("CO$_2$",15.01,7.8,"tab:red")]

plt.rcParams['font.family'] = ['Liberation Serif', 'DejaVu Serif']
plt.rcParams['mathtext.fontset'] = 'stix'
plt.rcParams['font.size'] = 17
plt.rcParams['xtick.direction'] = 'in'
plt.rcParams['ytick.direction'] = 'in'
plt.rcParams['xtick.major.size'] = 4.5
plt.rcParams['ytick.major.size'] = 4.5
plt.rcParams['xtick.minor.size'] = 2.5
plt.rcParams['ytick.minor.size'] = 2.5

LABEL_FS = 18.5
ANN_FS = 16
LEG_FS = 16


def xy(pairs):
    a = np.array(pairs, dtype=float)
    return a[:, 0], a[:, 1]


LW = 1.15
top_series = [(t_o2_desic, 'tab:blue', 'O$_2$ Desic. 10 bar'),
              (t_o2_outgas, 'tab:green', 'O$_2$ Outgas. 10 bar'),
              (t_venus_cloudy, 'tab:red', 'Venus-like Cloudy 10 bar'),
              (t_venus_clear, 'tab:orange', 'Venus-like Clear 10 bar'),
              (t_aqua_cloudy, 'tab:pink', 'Aqua Cloudy 1 bar'),
              (t_aqua_clear, 'tab:purple', 'Aqua Clear 1 bar')]
bottom_series = [(b_o2_desic, 'tab:blue', 'O$_2$ Desic. 10 bar'),
                 (b_o2_outgas, 'tab:green', 'O$_2$ Outgas. 10 bar'),
                 (b_venus_clear, 'tab:orange', 'Venus-like Clear 10 bar'),
                 (b_venus_cloudy, 'tab:red', 'Venus-like Cloudy 10 bar'),
                 (b_aqua_clear, 'tab:purple', 'Aqua Clear 1 bar'),
                 (b_aqua_cloudy, 'tab:pink', 'Aqua Cloudy 1 bar')]

fig = plt.figure(figsize=(13.64, 9.12), dpi=100)
W, H = 1364, 912
ax1 = fig.add_axes([78 / W, 1 - 398 / H, 720 / W, 359 / H])
ax2 = fig.add_axes([798 / W, 1 - 398 / H, 480 / W, 359 / H])
ax3 = fig.add_axes([78 / W, 1 - 851 / H, 1200 / W, 359 / H])
ax2.set_zorder(3)

# ---- top panel ----
gx, gy = xy(grey_star)
ax1.plot(gx, gy, color='lightgrey', lw=1.0)
for data, c, lab in top_series:
    x, y = xy(data)
    ax1.plot(x, y, color=c, lw=LW, label=lab)
    ax2.plot(x, y, color=c, lw=LW)

ax1.set_xlim(0.5, 5)
ax1.set_ylim(0, 175)
ax1.set_xticks([1, 2, 3, 4, 5])
ax1.xaxis.set_minor_locator(MultipleLocator(0.2))
ax1.set_yticks(np.arange(0, 176, 25))
ax1.yaxis.set_minor_locator(MultipleLocator(5))
ax1.spines['right'].set_visible(False)
ax1.tick_params(which='both', top=True, right=False)
ax1.set_ylabel('Relative Transit Depth [ppm]', fontsize=LABEL_FS)
ax1.set_title('TRAPPIST-1 e', loc='left', fontweight='bold', fontsize=19, pad=3)
ax1.legend(ncol=3, loc='upper left', fontsize=LEG_FS, columnspacing=2.0,
           borderaxespad=0.35)

ax2.set_xlim(5, 20)
ax2.set_ylim(0, 175)
ax2.set_xticks([10, 15, 20])
ax2.xaxis.set_minor_locator(MultipleLocator(1))
ax2.tick_params(axis='x', which='both', top=True)
ax2.tick_params(axis='y', which='both', left=False, right=False, labelleft=False)
ax2.spines['left'].set_linestyle((0, (1.5, 2.5)))
ax2.spines['left'].set_linewidth(1.4)
ax2.spines['left'].set_color('0.4')
sec = ax2.secondary_yaxis('right', functions=(lambda p: p / 1.75, lambda k: k * 1.75))
sec.set_yticks(np.arange(0, 101, 20))
sec.yaxis.set_minor_locator(MultipleLocator(5))
sec.tick_params(which='both', direction='in')
sec.set_ylabel('Atmosphere Height [km]', fontsize=LABEL_FS)

for t, lx, ly, c in top_labels:
    ax1.text(lx, ly, t, color=c, fontsize=ANN_FS, ha='center', va='center')
for t, lx, ly, c in right_labels:
    ax2.text(lx, ly, t, color=c, fontsize=ANN_FS, ha='center', va='center')

fig.text(678 / W, 1 - 440 / H, r'Wavelength ($\lambda$) [μm]', ha='center', va='center', fontsize=LABEL_FS)

# ---- bottom panel ----
for data, c, lab in bottom_series:
    x, y = xy(data)
    ax3.plot(x, y, color=c, lw=LW, label=lab)
ax3.set_xlim(3, 20)
ax3.set_ylim(0, 30)
ax3.set_xticks(np.arange(4, 21, 2))
ax3.xaxis.set_minor_locator(MultipleLocator(0.5))
ax3.set_yticks(np.arange(0, 31, 5))
ax3.yaxis.set_minor_locator(MultipleLocator(1))
ax3.tick_params(which='both', top=True, right=True)
ax3.set_xlabel(r'Wavelength ($\lambda$) [μm]', fontsize=LABEL_FS, labelpad=1)
ax3.set_ylabel(r'Flux [W m$^{-2}$μm$^{-1}$]', fontsize=LABEL_FS)
ax3.set_title('TRAPPIST-1 e', loc='left', fontweight='bold', fontsize=19, pad=3)
ax3.legend(loc='upper right', fontsize=LEG_FS)
for t, lx, ly, c in bottom_labels:
    ax3.text(lx, ly, t, color=c, fontsize=ANN_FS, ha='center', va='center')
ax3.text(7.32, 2.1, 'SO$_2$', color='tab:pink', fontsize=10, ha='center', va='center')

fig.savefig('out.png', dpi=100)
